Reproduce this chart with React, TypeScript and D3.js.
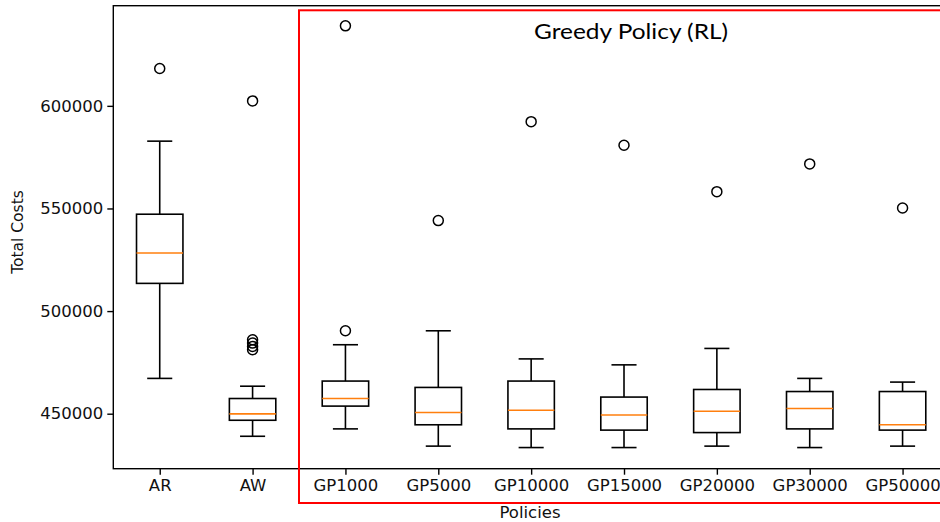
// @ts-nocheck
import * as d3 from "d3";
import React, { useRef, useEffect } from "react";

const policies = ["AR", "AW", "GP1000", "GP5000", "GP10000", "GP15000", "GP20000", "GP30000", "GP50000"];
const whiskerLow = [467200, 439000, 442600, 434200, 433500, 433500, 434200, 433500, 434200];
const quartile1 = [513500, 446800, 453700, 444600, 442600, 442000, 440800, 442600, 442000];
const medians = [528300, 449900, 457400, 450600, 451700, 449400, 451200, 452500, 444600];
const quartile3 = [547200, 457400, 465900, 462800, 465900, 458100, 461800, 460800, 460800];
const whiskerHigh = [582800, 463400, 483600, 490400, 476700, 473800, 481800, 467200, 465400];
const outliers = [
  [618200],
  [602400, 486000, 484400, 482800, 481200],
  [639000, 490400],
  [544100],
  [592300],
  [580800],
  [558200],
  [571700],
  [550200],
];
const yTicks = [450000, 500000, 550000, 600000];

export default function App() {
  const svgRef = useRef<SVGSVGElement | null>(null);

  useEffect(() => {
    const width = 940;
    const height = 522;
    const left = 113.3, top = 5.7, bottom = 468.7, right = 949;

    const svg = d3.select(svgRef.current).attr("width", width).attr("height", height);
    svg.selectAll("*").remove();

    const x = d3.scaleLinear().domain([0.5, policies.length + 0.5]).range([left, right]);
    const y = d3.scaleLinear().domain([423200, 648800]).range([bottom, top]);
    const step = x(2) - x(1);
    const boxW = step * 0.5;
    const capW = step * 0.27;

    const font = "'DejaVu Sans', sans-serif";

    // boxes
    policies.forEach((p, i) => {
      const cx = x(i + 1);
      const g = svg.append("g").attr("stroke", "#000").attr("stroke-width", 1.6).attr("fill", "none");
      g.append("line").attr("x1", cx).attr("x2", cx).attr("y1", y(quartile3[i])).attr("y2", y(whiskerHigh[i]));
      g.append("line").attr("x1", cx).attr("x2", cx).attr("y1", y(quartile1[i])).attr("y2", y(whiskerLow[i]));
      g.append("line").attr("x1", cx - capW / 2).attr("x2", cx + capW / 2).attr("y1", y(whiskerHigh[i])).attr("y2", y(whiskerHigh[i]));
      g.append("line").attr("x1", cx - capW / 2).attr("x2", cx + capW / 2).attr("y1", y(whiskerLow[i])).attr("y2", y(whiskerLow[i]));
      g.append("rect")
        .attr("x", cx - boxW / 2)
        .attr("width", boxW)
        .attr("y", y(quartile3[i]))
        .attr("height", y(quartile1[i]) - y(quartile3[i]));
      g.append("line")
        .attr("x1", cx - boxW / 2).attr("x2", cx + boxW / 2)
        .attr("y1", y(medians[i])).attr("y2", y(medians[i]))
        .attr("stroke", "#ff7f0e");
      g.selectAll("circle.o")
        .data(outliers[i])
        .join("circle")
        .attr("cx", cx)
        .attr("cy", d => y(d))
        .attr("r", 5)
        .attr("stroke-width", 1.5);
    });

    // spines
    svg.append("rect")
      .attr("x", left).attr("y", top)
      .attr("width", right - left).attr("height", bottom - top)
      .attr("fill", "none").attr("stroke", "#000").attr("stroke-width", 1.4);

    const yAxis = svg.append("g")
      .attr("transform", `translate(${left},0)`)
      .call(d3.axisLeft(y).tickValues(yTicks).tickSize(6).tickSizeOuter(0).tickPadding(4).tickFormat(d3.format("d")));
    yAxis.select(".domain").remove();
    yAxis.selectAll("line").attr("stroke", "#000").attr("stroke-width", 1.4);
    yAxis.selectAll("text").attr("font-family", font).attr("font-size", 16.5).attr("fill", "#111");

    const xAxis = svg.append("g")
      .attr("transform", `translate(0,${bottom})`)
      .call(d3.axisBottom(x).tickValues(policies.map((_, i) => i + 1)).tickSize(6).tickSizeOuter(0).tickPadding(5)
        .tickFormat((d) => policies[d - 1]));
    xAxis.select(".domain").remove();
    xAxis.selectAll("line").attr("stroke", "#000").attr("stroke-width", 1.4);
    xAxis.selectAll("text").attr("font-family", font).attr("font-size", 16.5).attr("fill", "#111");

    svg.append("text")
      .attr("x", 530).attr("y", 518)
      .attr("text-anchor", "middle")
      .attr("font-family", font).attr("font-size", 16.5).attr("fill", "#111")
      .text("Policies");

    svg.append("text")
      .attr("transform", `translate(23,232) rotate(-90)`)
      .attr("text-anchor", "middle")
      .attr("font-family", font).attr("font-size", 15.5).attr("fill", "#111")
      .text("Total Costs");

    // highlight box
    svg.append("rect")
      .attr("x", 299).attr("y", 10.3)
      .attr("width", 700).attr("height", 503 - 10.3)
      .attr("fill", "none").attr("stroke", "#ff0000").attr("stroke-width", 2);

    svg.append("text")
      .attr("x", 631).attr("y", 39)
      .attr("text-anchor", "middle")
      .attr("font-family", "'Lato', sans-serif").attr("font-size", 22).attr("fill", "#000")
      .attr("textLength", 194).attr("lengthAdjust", "spacingAndGlyphs")
      .text("Greedy Policy (RL)");
  }, []);

  return <svg ref={svgRef} style={{ position: "absolute", left: 0, top: 0, background: "#fff" }} />;
}
